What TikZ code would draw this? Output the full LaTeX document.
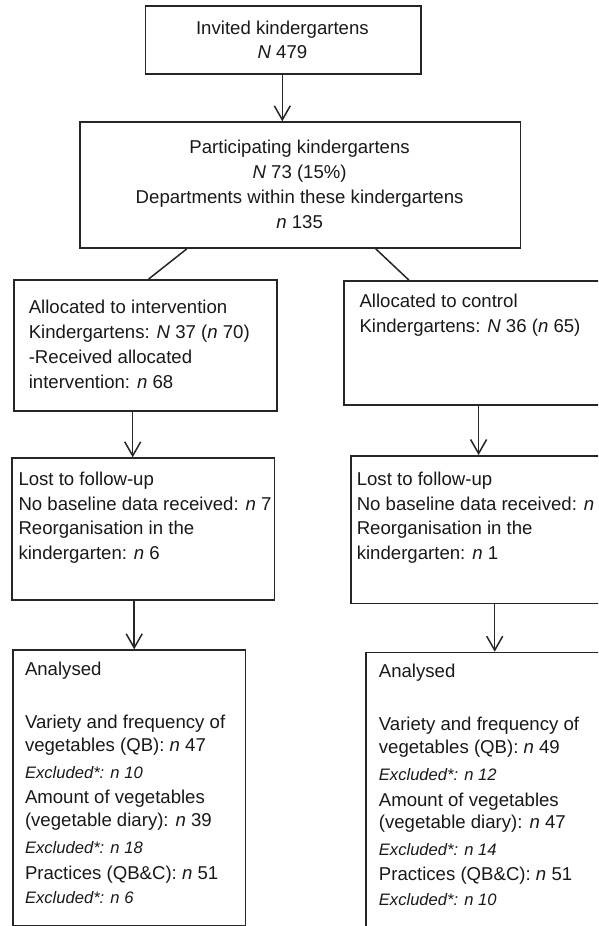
\documentclass[tikz,border=0pt]{standalone}
\usepackage{fontspec}
\setmainfont{Liberation Sans}
\usetikzlibrary{arrows.meta}
\begin{document}
\begin{tikzpicture}[x=1pt,y=-1pt,
  box/.style={draw=black!85, line width=1.5pt, inner sep=0pt, anchor=north west},
  txt/.style={anchor=base west, inner sep=0pt, text=black!90, font=\fontsize{18.6}{25}\selectfont},
  ctxt/.style={anchor=base, inner sep=0pt, text=black!90, font=\fontsize{18.6}{25}\selectfont},
  exc/.style={anchor=base west, inner sep=0pt, text=black!90, font=\fontsize{16.6}{20}\selectfont\itshape},
  arr/.style={draw=black!85, line width=1.5pt, -{Straight Barb[length=14pt,width=16pt]}},
  lnk/.style={draw=black!85, line width=1.5pt}]
\useasboundingbox (0,0) rectangle (598,926);
\clip (0,0) rectangle (598,926);
\fill[white] (0,0) rectangle (598,926);

% boxes
\node[box, minimum width=275.8pt, minimum height=68.3pt] (b1) at (144.5,5) {};
\node[box, minimum width=440.5pt, minimum height=126pt] (b2) at (79.3,121.3) {};
\node[box, minimum width=262.8pt, minimum height=131pt] (b3) at (13.3,279) {};
\node[box, minimum width=270pt, minimum height=124pt] (b4) at (343.2,280) {};
\node[box, minimum width=262.4pt, minimum height=142pt] (b5) at (11.4,457.3) {};
\node[box, minimum width=265pt, minimum height=147.7pt] (b6) at (350.1,455) {};
\node[box, minimum width=232.3pt, minimum height=275.2pt] (b7) at (12.2,649.3) {};
\node[box, minimum width=250pt, minimum height=290pt] (b8) at (365.4,651.7) {};

% connectors
\draw[arr] (b1.south -| 282.3,0) -- (b2.north -| 282.3,0);
\draw[lnk] (b2.south -| 186.9,0) -- (b3.north -| 148.7,0);
\draw[lnk] (b2.south -| 375.7,0) -- (b4.north -| 408.8,0);
\draw[arr] (b3.south -| 132.7,0) -- (b5.north -| 132.7,0);
\draw[arr] (b4.south -| 478.6,0) -- (b6.north -| 478.6,0);
\draw[arr] (b5.south -| 134.2,0) -- (b7.north -| 134.2,0);
\draw[arr] (b6.south -| 494.7,0) -- (b8.north -| 494.7,0);

% box 1
\node[ctxt] (t1a) at (282.4,34.3) {Invited kindergartens};
\node[ctxt] (t1b) at (282.4,58) {\textit{N} 479};
% box 2
\node[ctxt] (t2a) at (299.6,153) {Participating kindergartens};
\node[ctxt] (t2b) at (299.6,178) {\textit{N} 73 (15\%)};
\node[ctxt] (t2c) at (299.6,203) {Departments within these kindergartens};
\node[ctxt] (t2d) at (299.6,228) {\textit{n} 135};
% box 3
\node[txt] (t3a) at (28.6,313) {Allocated to intervention};
\node[txt] (t3b) at (28.6,338) {Kindergartens: \textit{N} 37 (\textit{n} 70)};
\node[txt] (t3c) at (28.6,363) {-Received allocated};
\node[txt] (t3d) at (28.6,388) {intervention: \textit{n} 68};
% box 4
\node[txt] (t4a) at (359.3,307) {Allocated to control};
\node[txt] (t4b) at (359.3,332) {Kindergartens: \textit{N} 36 (\textit{n} 65)};
% box 5
\node[txt] (t5a) at (18.3,485) {Lost to follow-up};
\node[txt] (t5b) at (18.3,510) {No baseline data received: \textit{n} 7};
\node[txt] (t5c) at (18.3,534) {Reorganisation in the};
\node[txt] (t5d) at (18.3,559) {kindergarten: \textit{n} 6};
% box 6
\node[txt] (t6a) at (356.6,485) {Lost to follow-up};
\node[txt] (t6b) at (356.6,510) {No baseline data received: \textit{n} 3};
\node[txt] (t6c) at (356.6,534) {Reorganisation in the};
\node[txt] (t6d) at (356.6,559) {kindergarten: \textit{n} 1};
% box 7
\node[txt] (t7a) at (24.8,675) {Analysed};
\node[txt] (t7b) at (24.8,728) {Variety and frequency of};
\node[txt] (t7c) at (24.8,751) {vegetables (QB): \textit{n} 47};
\node[exc] (t7d) at (24.8,778) {Excluded*: n 10};
\node[txt] (t7e) at (24.8,803) {Amount of vegetables};
\node[txt] (t7f) at (24.8,826) {(vegetable diary): \textit{n} 39};
\node[exc] (t7g) at (24.8,853) {Excluded*: n 18};
\node[txt] (t7h) at (24.8,879) {Practices (QB\&C): \textit{n} 51};
\node[exc] (t7i) at (24.8,903) {Excluded*: n 6};
% box 8
\node[txt] (t8a) at (378.7,677) {Analysed};
\node[txt] (t8b) at (378.7,730) {Variety and frequency of};
\node[txt] (t8c) at (378.7,753) {vegetables (QB): \textit{n} 49};
\node[exc] (t8d) at (378.7,780) {Excluded*: n 12};
\node[txt] (t8e) at (378.7,806) {Amount of vegetables};
\node[txt] (t8f) at (378.7,828) {(vegetable diary): \textit{n} 47};
\node[exc] (t8g) at (378.7,855) {Excluded*: n 14};
\node[txt] (t8h) at (378.7,880) {Practices (QB\&C): \textit{n} 51};
\node[exc] (t8i) at (378.7,905) {Excluded*: n 10};
\end{tikzpicture}
\end{document}
